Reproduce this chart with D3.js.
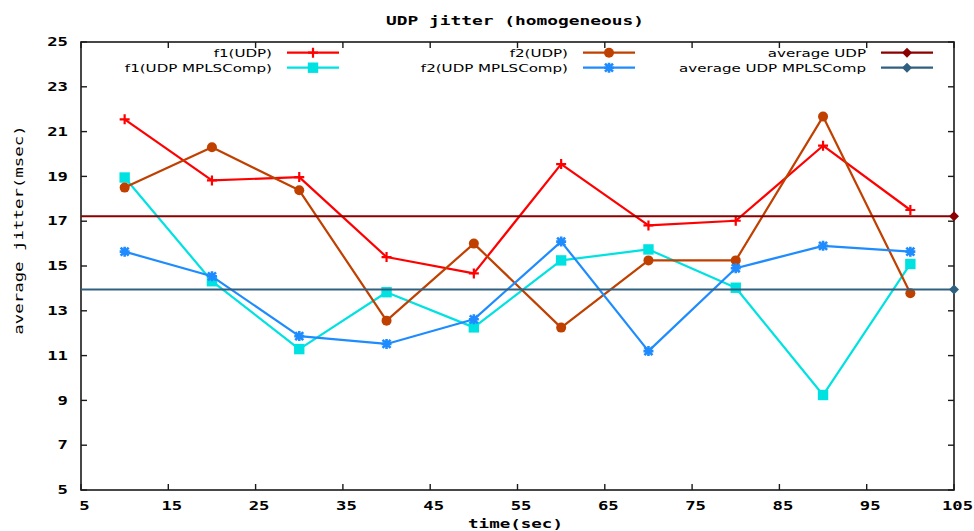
<!DOCTYPE html>
<html>
<head>
<meta charset="utf-8">
<script src="https://cdn.jsdelivr.net/npm/d3@7"></script>
<style>
  html, body { margin: 0; padding: 0; background: #fff; }
  svg { display: block; }
</style>
</head>
<body>
<svg id="chart" width="974" height="531"></svg>
<script>
// UDP jitter per flow, with and without MPLS header compression
const times = [10, 20, 30, 40, 50, 60, 70, 80, 90, 100];
const f1Udp = [21.55, 18.82, 18.97, 15.40, 14.67, 19.55, 16.81, 17.02, 20.37, 17.50];
const f1Mpls = [18.95, 14.32, 11.29, 13.83, 12.26, 15.25, 15.74, 14.03, 9.24, 15.09];
const f2Udp = [18.50, 20.30, 18.38, 12.56, 16.00, 12.25, 15.25, 15.25, 21.67, 13.78];
const f2Mpls = [15.64, 14.54, 11.87, 11.52, 12.62, 16.09, 11.20, 14.90, 15.90, 15.64];
const avgUdp = 17.22;
const avgMpls = 13.95;
const xTicks = [5, 15, 25, 35, 45, 55, 65, 75, 85, 95, 105];
const yTicks = [5, 7, 9, 11, 13, 15, 17, 19, 21, 23, 25];
const seriesNames = ["f1(UDP)", "f1(UDP MPLSComp)", "f2(UDP)", "f2(UDP MPLSComp)", "average UDP", "average UDP MPLSComp"];

const svg = d3.select("#chart");
const M = { left: 81, right: 954, top: 42, bottom: 490 };
const x = d3.scaleLinear().domain([5, 105]).range([M.left, M.right]);
const y = d3.scaleLinear().domain([5, 25]).range([M.bottom, M.top]);

const MONO = "'DejaVu Sans Mono', monospace";
const SANS = "'DejaVu Sans', sans-serif";

// text drawn with a horizontal stretch (wide terminal-style glyphs)
function wideText(parent, px, py, str, o) {
  const g = parent.append("g")
    .attr("transform", `translate(${px},${py}) ${o.rotate ? `rotate(${o.rotate})` : ""} scale(${o.sx},1)`);
  g.append("text")
    .attr("text-anchor", o.anchor || "middle")
    .attr("font-family", o.family)
    .attr("font-weight", o.weight || "normal")
    .attr("font-size", o.size)
    .attr("fill", "#000")
    .text(str);
  return g;
}

// frame
svg.append("rect")
  .attr("x", M.left).attr("y", M.top)
  .attr("width", M.right - M.left).attr("height", M.bottom - M.top)
  .attr("fill", "none").attr("stroke", "#1a1a1a").attr("stroke-width", 1.6);

// ticks (inward, mirrored on opposite sides)
const tickLen = 6;
const tickG = svg.append("g").attr("stroke", "#1a1a1a").attr("stroke-width", 1.4);
xTicks.forEach(t => {
  tickG.append("line").attr("x1", x(t)).attr("x2", x(t)).attr("y1", M.bottom).attr("y2", M.bottom - tickLen);
  tickG.append("line").attr("x1", x(t)).attr("x2", x(t)).attr("y1", M.top).attr("y2", M.top + tickLen);
});
yTicks.forEach(t => {
  tickG.append("line").attr("x1", M.left).attr("x2", M.left + tickLen).attr("y1", y(t)).attr("y2", y(t));
  tickG.append("line").attr("x1", M.right).attr("x2", M.right - tickLen).attr("y1", y(t)).attr("y2", y(t));
});

// tick labels
const tickFont = { family: MONO, weight: "bold", size: 11.5, sx: 1.5 };
xTicks.forEach(t => wideText(svg, x(t) + 3.5, 510, String(t), { ...tickFont, anchor: "middle" }));
yTicks.forEach(t => wideText(svg, 68, y(t) + 4.2, String(t), { ...tickFont, anchor: "end" }));

// titles
wideText(svg, 515, 25, "UDP jitter (homogeneous)", { family: MONO, weight: "bold", size: 12, sx: 1.49 });
wideText(svg, 515.5, 527.5, "time(sec)", { family: MONO, weight: "bold", size: 12, sx: 1.46 });
wideText(svg, 23, 230, "average jitter(msec)", { family: MONO, weight: "normal", size: 12, sx: 1.45, rotate: -90 });

// marker shapes
function drawMarker(g, kind, cx, cy, color) {
  if (kind === "plus") {
    const s = 5;
    g.append("path").attr("d", `M${cx - s},${cy}H${cx + s}M${cx},${cy - s}V${cy + s}`)
      .attr("stroke", color).attr("stroke-width", 2.2).attr("fill", "none");
  } else if (kind === "square") {
    const s = 5.2;
    g.append("rect").attr("x", cx - s).attr("y", cy - s).attr("width", 2 * s).attr("height", 2 * s).attr("fill", color);
  } else if (kind === "circle") {
    g.append("circle").attr("cx", cx).attr("cy", cy).attr("r", 5).attr("fill", color);
  } else if (kind === "star") {
    const s = 5, d = 4;
    g.append("path")
      .attr("d", `M${cx - s},${cy}H${cx + s}M${cx},${cy - s}V${cy + s}M${cx - d},${cy - d}L${cx + d},${cy + d}M${cx - d},${cy + d}L${cx + d},${cy - d}`)
      .attr("stroke", color).attr("stroke-width", 2.6).attr("fill", "none");
  } else if (kind === "diamond") {
    const s = 5;
    g.append("path").attr("d", `M${cx},${cy - s}L${cx + s},${cy}L${cx},${cy + s}L${cx - s},${cy}Z`).attr("fill", color);
  }
}

const series = [
  { name: seriesNames[0], values: f1Udp, color: "#ff0000", marker: "plus" },
  { name: seriesNames[1], values: f1Mpls, color: "#00e2e2", marker: "square" },
  { name: seriesNames[2], values: f2Udp, color: "#c04000", marker: "circle" },
  { name: seriesNames[3], values: f2Mpls, color: "#1e8cff", marker: "star" }
];
const averages = [
  { name: seriesNames[4], value: avgUdp, color: "#8b0000" },
  { name: seriesNames[5], value: avgMpls, color: "#306080" }
];

const line = d3.line().x(d => x(d[0])).y(d => y(d[1]));
const plotG = svg.append("g");

series.forEach(s => {
  const pts = times.map((t, i) => [t, s.values[i]]);
  plotG.append("path").datum(pts).attr("d", line)
    .attr("fill", "none").attr("stroke", s.color).attr("stroke-width", 2.2).attr("stroke-linejoin", "round");
  pts.forEach(p => drawMarker(plotG, s.marker, x(p[0]), y(p[1]), s.color));
});

averages.forEach(a => {
  plotG.append("line")
    .attr("x1", x(5)).attr("x2", x(105)).attr("y1", y(a.value)).attr("y2", y(a.value))
    .attr("stroke", a.color).attr("stroke-width", 2.2);
  drawMarker(plotG, "diamond", x(105), y(a.value), a.color);
});

// legend: three columns, two rows
const legendItems = [
  { ...series[0], col: 0, row: 0 },
  { ...series[1], col: 0, row: 1 },
  { ...series[2], col: 1, row: 0 },
  { ...series[3], col: 1, row: 1 },
  { ...averages[0], marker: "diamond", col: 2, row: 0 },
  { ...averages[1], marker: "diamond", col: 2, row: 1 }
];
const colTextEnd = [272, 568, 866];
const rowY = [52.7, 67.7];
const legG = svg.append("g");
legendItems.forEach(it => {
  const tx = colTextEnd[it.col], ly = rowY[it.row];
  wideText(legG, tx, ly + 4, it.name, { family: SANS, size: 11, sx: 1.37, anchor: "end" });
  legG.append("line").attr("x1", tx + 15).attr("x2", tx + 67).attr("y1", ly).attr("y2", ly)
    .attr("stroke", it.color).attr("stroke-width", 2.2);
  drawMarker(legG, it.marker, tx + 41, ly, it.color);
});
</script>
</body>
</html>
